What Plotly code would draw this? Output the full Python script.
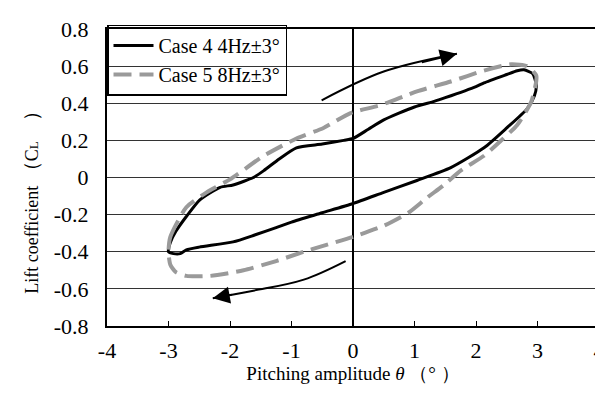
import plotly.graph_objects as go

# Case 4 (4Hz ±3°) loop
case4_theta = [-3.0, -2.97, -2.88, -2.71, -2.49, -2.16, -1.95, -1.62, -1.45, -1.2, -0.92, -0.5, -0.15, 0.0,
               0.25, 0.5, 1.0, 1.32, 1.5, 2.0, 2.13, 2.5, 2.67, 2.78, 2.92, 2.98, 2.95, 2.83, 2.5, 2.13,
               1.59, 1.04, 0.5, 0.0, -0.5, -1.0, -1.25, -1.6, -1.95, -2.5, -2.71, -2.81, -2.92, -3.0]
case4_cl = [-0.40, -0.35, -0.29, -0.21, -0.12, -0.053, -0.04, 0.0, 0.037, 0.10, 0.16, 0.18, 0.20, 0.21,
            0.26, 0.31, 0.38, 0.41, 0.43, 0.49, 0.51, 0.555, 0.575, 0.58, 0.56, 0.50, 0.44, 0.37, 0.267, 0.16,
            0.053, -0.016, -0.08, -0.14, -0.19, -0.24, -0.27, -0.31, -0.347, -0.375, -0.39, -0.41, -0.41, -0.40]

# Case 5 (8Hz ±3°) loop
case5_theta = [-3.0, -2.97, -2.71, -2.38, -2.0, -1.45, -0.92, -0.48, -0.04, 0.45, 1.04, 1.59, 2.13, 2.57,
               2.83, 2.98, 2.98, 2.9, 2.67, 2.40, 2.13, 1.75, 1.48, 1.2, 0.9, 0.5, 0.0, -0.5, -0.8, -1.25,
               -1.78, -2.32, -2.71, -2.88, -2.97, -3.0]
case5_cl = [-0.40, -0.32, -0.16, -0.08, -0.01, 0.117, 0.21, 0.267, 0.347, 0.39, 0.464, 0.517, 0.576, 0.61,
            0.60, 0.55, 0.52, 0.41, 0.283, 0.197, 0.117, 0.037, -0.04, -0.11, -0.19, -0.26, -0.32, -0.37, -0.40, -0.45,
            -0.50, -0.53, -0.53, -0.51, -0.47, -0.40]

series_names = ["Case 4 4Hz±3°", "Case 5 8Hz±3°"]

# direction arrows (theta, CL)
arrow_up_theta = [-0.51, 0.5, 1.69]
arrow_up_cl = [0.416, 0.571, 0.667]
arrow_dn_theta = [-0.12, -0.8, -1.62, -2.28]
arrow_dn_cl = [-0.45, -0.55, -0.61, -0.65]

x_ticks = [-4, -3, -2, -1, 0, 1, 2, 3, 4]
x_tick_text = ["-4", "-3", "-2", "-1", "0", "1", "2", "3", "4"]
y_ticks = [-0.8, -0.6, -0.4, -0.2, 0, 0.2, 0.4, 0.6, 0.8]
y_tick_text = ["-0.8", "-0.6", "-0.4", "-0.2", "0", "0.2", "0.4", "0.6", "0.8"]

FONT = "Liberation Serif, Times New Roman, serif"

fig = go.Figure()
fig.add_trace(go.Scatter(x=case4_theta, y=case4_cl, mode="lines", name=series_names[0],
                         line=dict(color="black", width=3, shape="spline", smoothing=0.6)))
fig.add_trace(go.Scatter(x=case5_theta, y=case5_cl, mode="lines", name=series_names[1],
                         line=dict(color="#9a9a9a", width=4, dash="18px,8px", shape="spline", smoothing=0.6)))

for ax_, ay_ in [(arrow_up_theta, arrow_up_cl), (arrow_dn_theta, arrow_dn_cl)]:
    fig.add_trace(go.Scatter(x=ax_, y=ay_, mode="lines", showlegend=False,
                             line=dict(color="black", width=2, shape="spline"), hoverinfo="skip"))
    fig.add_annotation(x=ax_[-1], y=ay_[-1], ax=ax_[-2] + (ax_[-1] - ax_[-2]) * 0.5,
                       ay=ay_[-2] + (ay_[-1] - ay_[-2]) * 0.5,
                       xref="x", yref="y", axref="x", ayref="y", text="", showarrow=True,
                       arrowhead=2, arrowsize=1.7, arrowwidth=2, arrowcolor="black")

fig.update_layout(
    width=603, height=396,
    margin=dict(l=99, r=12, t=21, b=78),
    plot_bgcolor="white", paper_bgcolor="white",
    font=dict(family=FONT, color="black", size=22),
    showlegend=True,
    legend=dict(x=0, y=1.015, xanchor="left", yanchor="top", bgcolor="rgba(0,0,0,0)",
                bordercolor="black", borderwidth=1.5, font=dict(size=20, family=FONT),
                tracegroupgap=0, itemwidth=40),
)
fig.update_xaxes(range=[-4, 4], tickvals=x_ticks, ticktext=x_tick_text, ticks="inside", ticklen=5,
                 tickcolor="black", showgrid=False, zeroline=True, zerolinecolor="black", zerolinewidth=1.5,
                 showline=True, linecolor="black", linewidth=2, mirror=True, automargin=False,
                 tickfont=dict(size=22), ticklabelstandoff=4, ticklabeloverflow="allow",
                 title=dict(text="　Pitching amplitude <i>θ</i> （° ）", font=dict(size=19), standoff=2))
fig.update_yaxes(range=[-0.8, 0.8], tickvals=y_ticks, ticktext=y_tick_text, ticks="",
                 showgrid=True, gridcolor="#333333", gridwidth=1, zeroline=True, zerolinecolor="#333333",
                 zerolinewidth=1, showline=True, linecolor="black", linewidth=2, mirror=True, automargin=False,
                 tickfont=dict(size=22), ticklabelstandoff=12,
                 title=dict(text="Lift coefficient <span style='font-size:20px'>（</span>C<span style='font-size:13px'>L</span><span style='font-size:20px'>　）　　</span>",
                            font=dict(size=18), standoff=10))

fig.write_html("out.html")
